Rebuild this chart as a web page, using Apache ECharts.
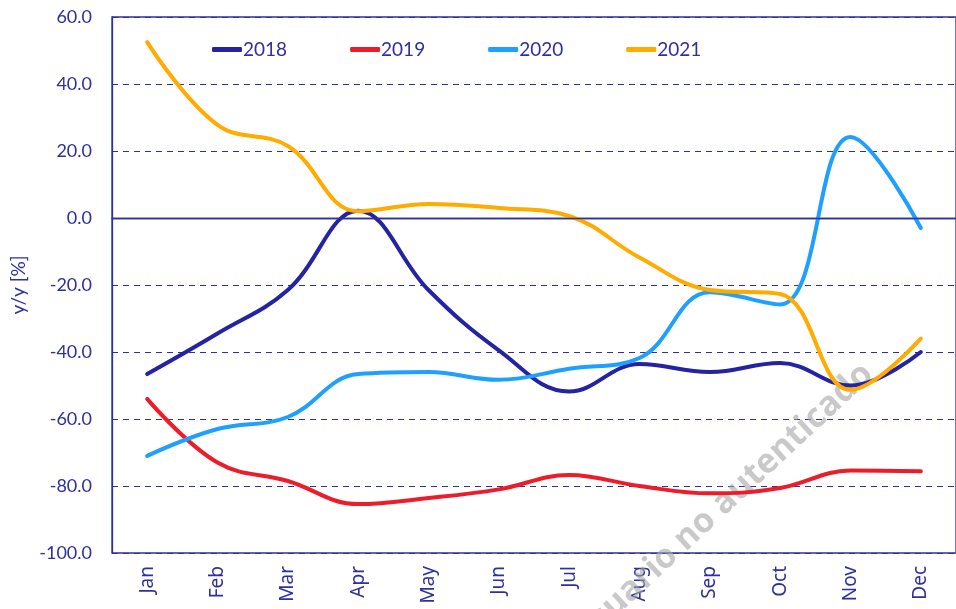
<!DOCTYPE html>
<html style="height: 100%">
<head>
<meta charset="utf-8">
<script type="text/javascript" src="https://cdn.jsdelivr.net/npm/echarts@6/dist/echarts.min.js"></script>
<style>
  body { margin: 0; height: 100%; background: #fff; }
  #container { width: 956px; height: 609px; }
</style>
</head>
<body>
<div id="container"></div>
<script type="text/javascript">
// months on the x axis
var months = ['Jan', 'Feb', 'Mar', 'Apr', 'May', 'Jun', 'Jul', 'Aug', 'Sep', 'Oct', 'Nov', 'Dec'];
// y/y change per year
var y2018 = [-46.6, -34.5, -21.5, 2.2, -21.5, -39.5, -51.8, -43.6, -46.0, -43.3, -50.0, -40.0];
var y2019 = [-54.0, -73.0, -78.5, -85.4, -83.6, -81.0, -76.7, -80.0, -82.2, -80.6, -75.4, -75.6];
var y2020 = [-71.0, -63.0, -59.4, -46.6, -46.0, -48.3, -45.0, -41.8, -22.2, -25.8, 24.2, -3.0];
var y2021 = [52.5, 27.8, 21.5, 2.0, 4.2, 3.0, 0.6, -11.8, -21.5, -22.7, -51.3, -36.0];
var yTicks = { min: -100, max: 60, step: 20 };

var navy = '#2f2f9e';
var dom = document.getElementById('container');
var myChart = echarts.init(dom);

function line(name, data, color) {
    return {
        name: name,
        type: 'line',
        data: data,
        smooth: 0.4,
        symbol: 'none',
        lineStyle: { color: color, width: 4, cap: 'round' },
        itemStyle: { color: color },
        z: 3
    };
}

var option = {
    animation: false,
    textStyle: { fontFamily: 'Lato, "Noto Sans", sans-serif' },
    grid: {
        left: 112, top: 17, width: 848, height: 536,
        show: true, borderColor: navy, borderWidth: 1.3
    },
    legend: {
        left: 207, top: 35,
        icon: 'roundRect',
        itemWidth: 30, itemHeight: 5,
        itemGap: 63,
        textStyle: { color: navy, fontSize: 19, padding: [0, 0, 0, -4] }
    },
    xAxis: {
        type: 'category',
        data: months,
        boundaryGap: true,
        axisLine: { lineStyle: { color: navy, width: 1.3 } },
        axisTick: { show: false },
        axisLabel: {
            rotate: 90, color: navy, fontSize: 19, margin: 13,
            fontFamily: '"Noto Sans", Lato, sans-serif'
        }
    },
    yAxis: {
        type: 'value',
        min: yTicks.min, max: yTicks.max, interval: yTicks.step,
        name: 'y/y [%]',
        nameLocation: 'middle',
        nameGap: 82,
        nameTextStyle: { color: navy, fontSize: 19 },
        axisLine: { show: true, lineStyle: { color: navy, width: 1.3 } },
        axisTick: { show: false },
        axisLabel: {
            color: navy, fontSize: 18, margin: 20,
            formatter: function (v) { return v.toFixed(1); }
        },
        splitLine: { lineStyle: { color: navy, type: [6, 5], width: 1 } }
    },
    graphic: [{
        type: 'text',
        x: 722, y: 505,
        rotation: 0.75,
        z: 1,
        style: {
            text: 'Usuario no autenticado',
            fill: 'rgba(165,165,165,0.6)',
            font: 'bold 34px "Open Sans", sans-serif',
            align: 'center', verticalAlign: 'middle'
        }
    }],
    series: [
        line('2018', y2018, '#2323a3'),
        line('2019', y2019, '#ed1c2a'),
        line('2020', y2020, '#1fa0ff'),
        line('2021', y2021, '#ffab00'),
        {
            type: 'line', data: [], silent: true,
            markLine: {
                silent: true, symbol: 'none', label: { show: false },
                lineStyle: { color: navy, type: 'solid', width: 1.3 },
                data: [{ yAxis: 0 }]
            }
        }
    ]
};
myChart.setOption(option);
</script>
</body>
</html>
